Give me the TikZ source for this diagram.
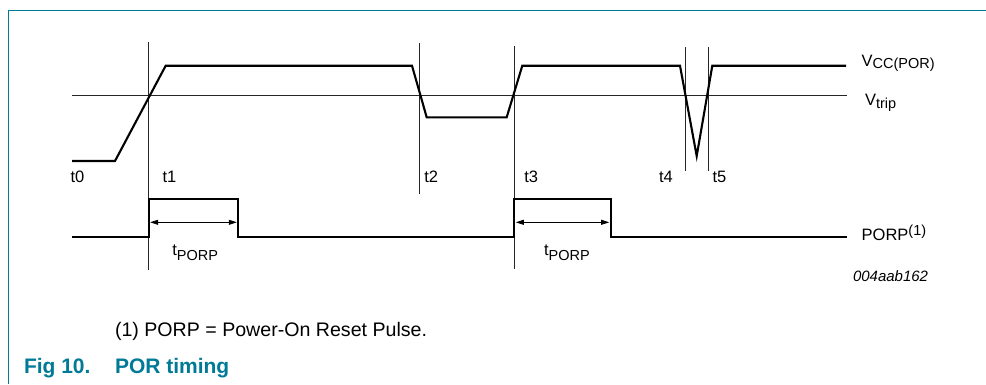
\documentclass[tikz,border=0pt]{standalone}
\usepackage{fontspec}
\setmainfont{Liberation Sans}
\usetikzlibrary{arrows.meta}
\definecolor{nxpteal}{RGB}{0,122,150}
\newcommand\lbl{\fontsize{16.5}{18}\selectfont}
\newcommand\sublbl[2][-2.5pt]{\raisebox{#1}{\fontsize{14.5}{16}\selectfont #2}}
\tikzset{
  signal/.style={line width=2.1pt, line join=miter},
  thin/.style={line width=0.8pt, draw=black!85},
  frameline/.style={line width=1.1pt, draw=nxpteal},
  dim/.style={line width=0.8pt, {Triangle[length=8pt,width=5pt]}-{Triangle[length=8pt,width=5pt]}},
  txt/.style={anchor=base west, inner sep=0pt, outer sep=0pt}
}
\begin{document}
\begin{tikzpicture}[x=1pt,y=-1pt]
\useasboundingbox (0,0) rectangle (986,384);
% frame
\coordinate (fc) at (8.7,10.7);
\coordinate (fr) at (986,10.7);
\coordinate (fb) at (8.7,384);
\draw[frameline] (fr) -- (fc) -- (fb);

% Vtrip reference line
\coordinate (vtl) at (72,95);
\coordinate (vtr) at (847,95);
\draw[thin] (vtl) -- (vtr);

% time markers
\coordinate (t1a) at (148.7,42); \coordinate (t1b) at (148.7,270);
\coordinate (t2a) at (419,43);   \coordinate (t2b) at (419,194);
\coordinate (t3a) at (514.3,46); \coordinate (t3b) at (514.3,269);
\coordinate (t4a) at (685,47);   \coordinate (t4b) at (685,171);
\coordinate (t5a) at (708.7,47); \coordinate (t5b) at (708.7,171);
\draw[thin] (t1a) -- (t1b);
\draw[thin] (t2a) -- (t2b);
\draw[thin] (t3a) -- (t3b);
\draw[thin] (t4a) -- (t4b);
\draw[thin] (t5a) -- (t5b);

% VCC signal
\draw[signal] (72,161) -- (115,161) -- (165.7,65.7) -- (412,65.7) -- (426.7,117.3)
  -- (506.7,117.3) -- (522.3,65.7) -- (680,65.7) -- (696.7,156) -- (712.3,65.7) -- (846,65.7);

% PORP signal
\draw[signal] (72,236.7) -- (148.7,236.7) -- (148.7,199) -- (238.3,199) -- (238.3,236.7)
  -- (514.3,236.7) -- (514.3,199) -- (610.7,199) -- (610.7,236.7) -- (846.7,236.7);

% tPORP dimension arrows
\coordinate (d1a) at (150.2,222.3); \coordinate (d1b) at (236.8,222.3);
\coordinate (d2a) at (515.8,222.3); \coordinate (d2b) at (609.2,222.3);
\draw[dim] (d1a) -- (d1b);
\draw[dim] (d2a) -- (d2b);

% labels
\node[txt] (lt0) at (70.5,182) {\lbl t0};
\node[txt] (lt1) at (162.5,182) {\lbl t1};
\node[txt] (lt2) at (424.3,182) {\lbl t2};
\node[txt] (lt3) at (524.3,182) {\lbl t3};
\node[txt] (lt4) at (659,182) {\lbl t4};
\node[txt] (lt5) at (712.5,182) {\lbl t5};
\node[txt] (lvcc) at (861.7,66.7) {\lbl V\sublbl[-2pt]{CC(POR)}};
\node[txt] (lvtrip) at (865,105) {\lbl V\sublbl[-3pt]{trip}};
\node[txt] (lporp) at (861.7,240) {\lbl PORP\raisebox{5pt}{\fontsize{14.5}{16}\selectfont (1)}};
\node[txt] (lp1) at (172.3,255) {\lbl t\sublbl[-5pt]{PORP}};
\node[txt] (lp2) at (544,255) {\lbl t\sublbl[-5pt]{PORP}};
\node[txt] (lid) at (853,281) {\fontsize{15}{17}\selectfont\itshape 004aab162};
\node[txt] (lnote) at (115,336) {\fontsize{19.6}{22}\selectfont (1) PORP = Power-On Reset Pulse.};
\node[txt, text=nxpteal] (lfig) at (24,373.3) {\fontsize{21}{23}\selectfont\bfseries Fig 10.};
\node[txt, text=nxpteal] (lfig2) at (115,373.3) {\fontsize{21}{23}\selectfont\bfseries POR timing};
\end{tikzpicture}
\end{document}
